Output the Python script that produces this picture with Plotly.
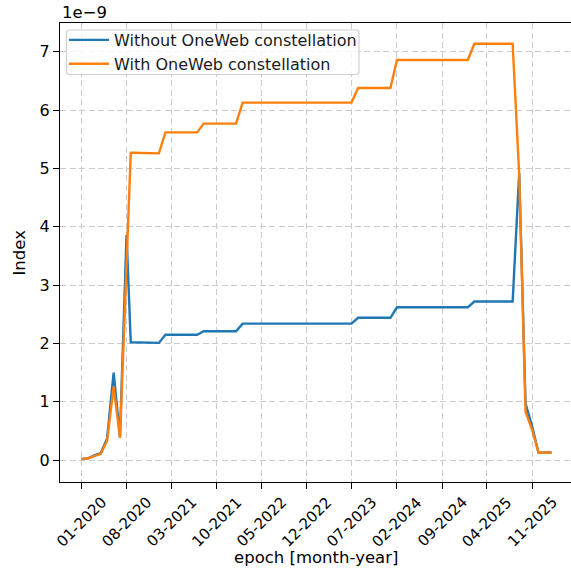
import pandas as pd
import plotly.graph_objects as go

# Monthly epochs of the index series (one extra sample in August 2020)
epochs = [
    "2020-01-01", "2020-02-01", "2020-03-01", "2020-04-01", "2020-05-01", "2020-06-01",
    "2020-07-01", "2020-08-01", "2020-08-21", "2020-09-01", "2020-10-01", "2020-11-01",
    "2020-12-01", "2021-01-01", "2021-02-01", "2021-03-01", "2021-04-01", "2021-05-01",
    "2021-06-01", "2021-07-01", "2021-08-01", "2021-09-01", "2021-10-01", "2021-11-01",
    "2021-12-01", "2022-01-01", "2022-02-01", "2022-03-01", "2022-04-01", "2022-05-01",
    "2022-06-01", "2022-07-01", "2022-08-01", "2022-09-01", "2022-10-01", "2022-11-01",
    "2022-12-01", "2023-01-01", "2023-02-01", "2023-03-01", "2023-04-01", "2023-05-01",
    "2023-06-01", "2023-07-01", "2023-08-01", "2023-09-01", "2023-10-01", "2023-11-01",
    "2023-12-01", "2024-01-01", "2024-02-01", "2024-03-01", "2024-04-01", "2024-05-01",
    "2024-06-01", "2024-07-01", "2024-08-01", "2024-09-01", "2024-10-01", "2024-11-01",
    "2024-12-01", "2025-01-01", "2025-02-01", "2025-03-01", "2025-04-01", "2025-05-01",
    "2025-06-01", "2025-07-01", "2025-08-01", "2025-09-01", "2025-10-01", "2025-11-01",
    "2025-12-01", "2026-01-01", "2026-02-01",
]

# Index values in units of 1e-9
without_oneweb = [
    0.02, 0.03, 0.08, 0.12, 0.37, 1.50,
    0.40, 3.86, 2.02, 2.02, 2.02, 2.02,
    2.01, 2.01, 2.15, 2.15, 2.15, 2.15,
    2.15, 2.15, 2.21, 2.21, 2.21, 2.21,
    2.21, 2.21, 2.34, 2.34, 2.34, 2.34,
    2.34, 2.34, 2.34, 2.34, 2.34, 2.34,
    2.34, 2.34, 2.34, 2.34, 2.34, 2.34,
    2.34, 2.34, 2.44, 2.44, 2.44, 2.44,
    2.44, 2.44, 2.62, 2.62, 2.62, 2.62,
    2.62, 2.62, 2.62, 2.62, 2.62, 2.62,
    2.62, 2.62, 2.72, 2.72, 2.72, 2.72,
    2.72, 2.72, 2.72, 4.92, 0.97, 0.58,
    0.13, 0.13, 0.13,
]
with_oneweb = [
    0.02, 0.03, 0.07, 0.11, 0.33, 1.26,
    0.38, 3.40, 5.27, 5.27, 5.27, 5.27,
    5.26, 5.26, 5.62, 5.62, 5.62, 5.62,
    5.62, 5.62, 5.77, 5.77, 5.77, 5.77,
    5.77, 5.77, 6.13, 6.13, 6.13, 6.13,
    6.13, 6.13, 6.13, 6.13, 6.13, 6.13,
    6.13, 6.13, 6.13, 6.13, 6.13, 6.13,
    6.13, 6.13, 6.38, 6.38, 6.38, 6.38,
    6.38, 6.38, 6.86, 6.86, 6.86, 6.86,
    6.86, 6.86, 6.86, 6.86, 6.86, 6.86,
    6.86, 6.86, 7.14, 7.14, 7.14, 7.14,
    7.14, 7.14, 7.14, 4.90, 0.83, 0.52,
    0.13, 0.13, 0.13,
]
SCALE = 1e-9

tick_dates = [
    "2020-01-01", "2020-08-01", "2021-03-01", "2021-10-01", "2022-05-01", "2022-12-01",
    "2023-07-01", "2024-02-01", "2024-09-01", "2025-04-01", "2025-11-01",
]
tick_labels = [
    "01-2020", "08-2020", "03-2021", "10-2021", "05-2022", "12-2022",
    "07-2023", "02-2024", "09-2024", "04-2025", "11-2025",
]
y_ticks = [0, 1, 2, 3, 4, 5, 6, 7]

FONT = "DejaVu Sans"
BLUE = "#1f77b4"
ORANGE = "#ff7f0e"

W, H = 571, 575
ML, MT, MB, MR = 60, 23, 93, 0
PW, PH = W - ML - MR, H - MT - MB


def px_x(px):
    return (px - ML) / PW


def px_y(py):
    return 1 - (py - MT) / PH


x = pd.to_datetime(epochs)

fig = go.Figure()
fig.add_trace(go.Scatter(
    x=x, y=[v * SCALE for v in without_oneweb], mode="lines",
    name="Without OneWeb constellation",
    line=dict(color=BLUE, width=2.4),
))
fig.add_trace(go.Scatter(
    x=x, y=[v * SCALE for v in with_oneweb], mode="lines",
    name="With OneWeb constellation",
    line=dict(color=ORANGE, width=2.4),
))

# x range: horizontal pixel anchors of the first and last tick dates
t0 = pd.Timestamp(tick_dates[0])
t1 = pd.Timestamp(tick_dates[-1])
px_first, px_last = 81.5, 532.1
days_per_px = (t1 - t0).days / (px_last - px_first)
x_left = t0 - pd.Timedelta(days=(px_first - ML) * days_per_px)
x_right = t0 + pd.Timedelta(days=(W - MR - px_first) * days_per_px)

grid = dict(showgrid=True, gridcolor="#cbcbcb", gridwidth=1.2, griddash="6px,3.5px")

fig.update_xaxes(
    type="date", range=[x_left, x_right],
    tickvals=pd.to_datetime(tick_dates), showticklabels=False,
    ticks="outside", ticklen=6, tickwidth=1.3, tickcolor="black",
    showline=True, linecolor="black", linewidth=1.4, mirror=True,
    zeroline=False, **grid,
)
fig.update_yaxes(
    range=[-0.375 * SCALE, 7.495 * SCALE],
    tickvals=[v * SCALE for v in y_ticks], ticktext=[str(v) for v in y_ticks],
    ticks="outside", ticklen=6, tickwidth=1.3, tickcolor="black",
    tickfont=dict(family=FONT, size=16, color="black"),
    showline=True, linecolor="black", linewidth=1.4, mirror=False,
    zeroline=False, **grid,
)

annotations = []
for d, lab in zip(tick_dates, tick_labels):
    annotations.append(dict(
        x=pd.Timestamp(d), y=0, xref="x", yref="paper", yshift=-39.5,
        text=lab, textangle=-45, showarrow=False,
        xanchor="center", yanchor="middle",
        font=dict(family=FONT, size=15, color="black"),
    ))
annotations.append(dict(
    x=px_x(316), y=0, xref="paper", yref="paper", yshift=-75,
    text="epoch [month-year]", showarrow=False, xanchor="center", yanchor="middle",
    font=dict(family=FONT, size=16.5, color="black"),
))
annotations.append(dict(
    x=px_x(19), y=0.5, xref="paper", yref="paper",
    text="Index", textangle=-90, showarrow=False, xanchor="center", yanchor="middle",
    font=dict(family=FONT, size=16.5, color="black"),
))
annotations.append(dict(
    x=0, y=1, xref="paper", yref="paper", yshift=11,
    text="1e\u22129", showarrow=False, xanchor="left", yanchor="middle",
    font=dict(family=FONT, size=16.5, color="black"),
))

# Legend frame: rounded, light border, translucent white fill
bx0, by0, bx1, by1, r = 66.5, 30, 359, 74.5, 3
path = (
    f"M {px_x(bx0 + r)},{px_y(by0)} L {px_x(bx1 - r)},{px_y(by0)} "
    f"Q {px_x(bx1)},{px_y(by0)} {px_x(bx1)},{px_y(by0 + r)} "
    f"L {px_x(bx1)},{px_y(by1 - r)} "
    f"Q {px_x(bx1)},{px_y(by1)} {px_x(bx1 - r)},{px_y(by1)} "
    f"L {px_x(bx0 + r)},{px_y(by1)} "
    f"Q {px_x(bx0)},{px_y(by1)} {px_x(bx0)},{px_y(by1 - r)} "
    f"L {px_x(bx0)},{px_y(by0 + r)} "
    f"Q {px_x(bx0)},{px_y(by0)} {px_x(bx0 + r)},{px_y(by0)} Z"
)
fig.add_shape(
    type="path", path=path, xref="paper", yref="paper", layer="above",
    fillcolor="rgba(255,255,255,0.8)", line=dict(color="#d0d0d0", width=1.2),
)

fig.update_layout(
    width=W, height=H,
    margin=dict(l=ML, r=MR, t=MT, b=MB),
    paper_bgcolor="white", plot_bgcolor="white",
    font=dict(family=FONT, size=16, color="black"),
    showlegend=True,
    legend=dict(
        x=px_x(64), y=px_y(23),
        xanchor="left", yanchor="top",
        bgcolor="rgba(0,0,0,0)", borderwidth=0,
        font=dict(family=FONT, size=16, color="#1a1a1a"),
        itemwidth=40, tracegroupgap=0,
    ),
    annotations=annotations,
)

fig.write_html("out.html")
